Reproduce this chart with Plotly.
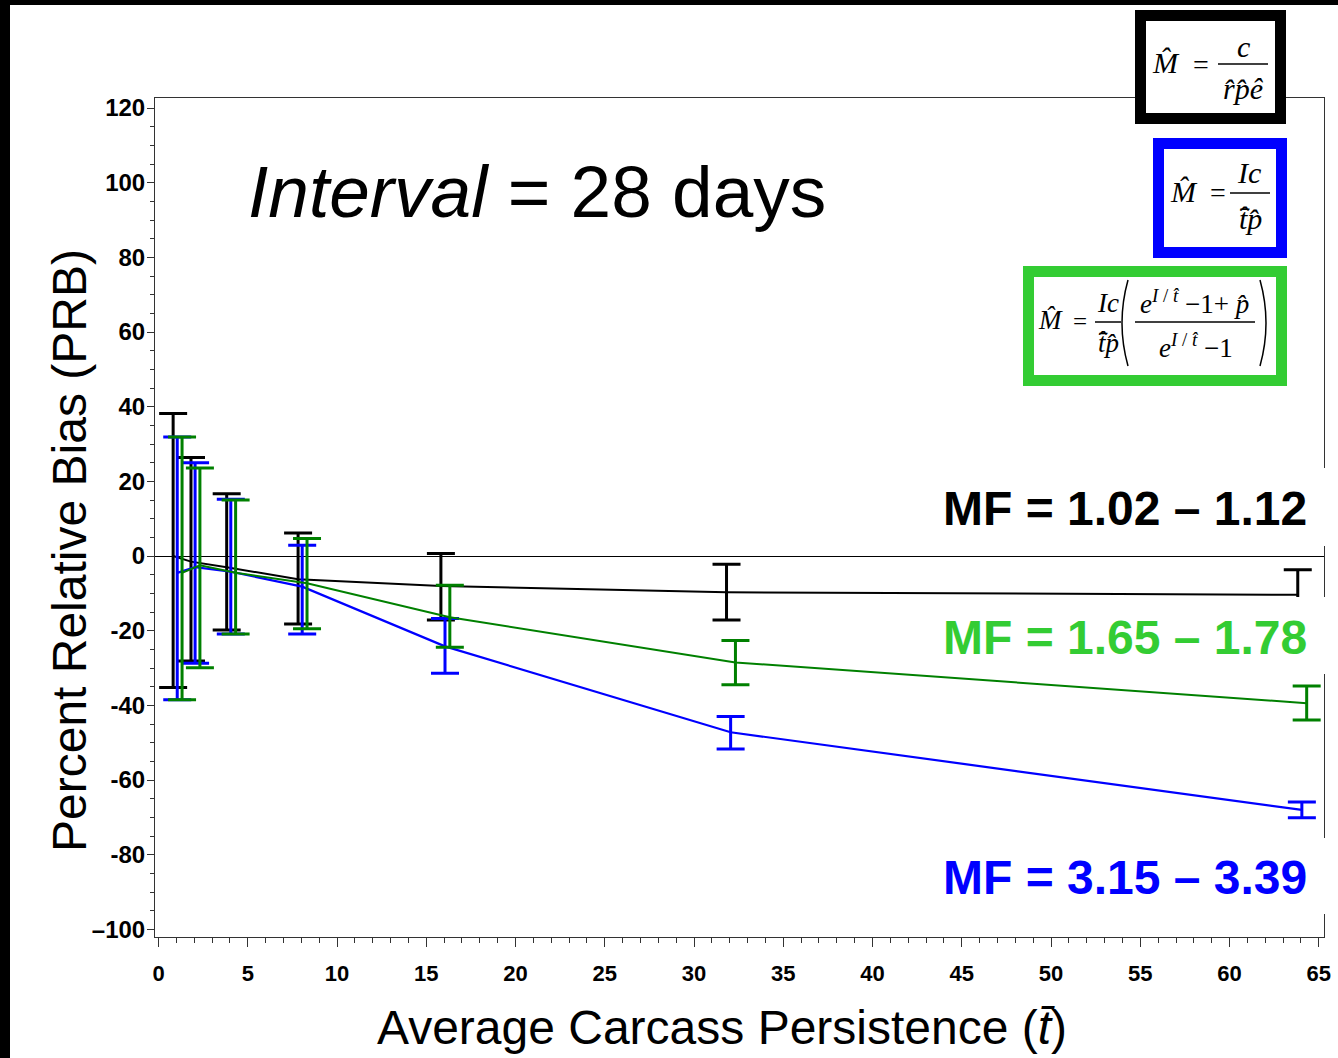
import plotly.graph_objects as go

# ---------------- data ----------------
t_values = [1, 2, 4, 8, 16, 32, 64]

black_mean = [0.0, -1.5, -3.0, -6.2, -8.0, -9.7, -10.4]
black_upper = [38.2, 26.4, 16.7, 6.2, 0.7, -2.2, -3.7]
black_lower = [-35.2, -28.1, -19.8, -18.2, -17.1, -17.1, -17.1]

blue_mean = [-4.5, -3.0, -4.2, -8.2, -24.2, -47.2, -68.0]
blue_upper = [31.9, 25.0, 15.2, 2.9, -16.7, -43.0, -65.9]
blue_lower = [-38.5, -28.7, -20.9, -20.9, -31.4, -51.7, -70.1]

green_mean = [-4.5, -2.5, -4.5, -7.3, -16.4, -28.5, -39.4]
green_upper = [31.9, 23.6, 15.0, 4.7, -7.8, -22.6, -34.8]
green_lower = [-38.5, -29.9, -20.9, -19.5, -24.4, -34.5, -43.9]

y_tickvals = [-100, -80, -60, -40, -20, 0, 20, 40, 60, 80, 100, 120]
y_ticktext = ["\u2013100", "-80", "-60", "-40", "-20", "0", "20", "40", "60", "80", "100", "120"]
x_tickvals = list(range(0, 66, 5))

mf_black = "MF = 1.02 \u2013 1.12"
mf_green = "MF = 1.65 \u2013 1.78"
mf_blue = "MF = 3.15 \u2013 3.39"

# ---------------- layout geometry ----------------
W, H = 1338, 1058
L, R, T, B = 155, 14, 98, 121
PW = W - L - R
PH = H - T - B


def px(x):
    return (x - L) / PW


def py(y):
    return (H - B - y) / PH


BLACK = "#000000"
BLUE = "#0000FF"
GREEN = "#008000"
LGREEN = "#33CC33"
SANS = "Liberation Sans, Arial, sans-serif"
SERIF = "Liberation Serif, Times New Roman, serif"


def series(x_off, mean, upper, lower, color, lw):
    return go.Scatter(
        x=[t + x_off for t in t_values], y=mean, mode="lines",
        line=dict(color=color, width=lw),
        error_y=dict(type="data", symmetric=False,
                     array=[u - m for u, m in zip(upper, mean)],
                     arrayminus=[m - lo for m, lo in zip(mean, lower)],
                     color=color, thickness=3, width=14),
        showlegend=False, hoverinfo="skip")


fig = go.Figure()
fig.add_trace(series(-0.18, black_mean, black_upper, black_lower, BLACK, 2))
fig.add_trace(series(0.05, blue_mean, blue_upper, blue_lower, BLUE, 2.2))
fig.add_trace(series(0.32, green_mean, green_upper, green_lower, GREEN, 2))

shapes = []


def rect(x0, y0, x1, y1, fill, line_color=None, lw=0):
    shapes.append(dict(type="rect", xref="paper", yref="paper",
                       x0=px(x0), x1=px(x1), y0=py(y1), y1=py(y0),
                       fillcolor=fill, layer="above",
                       line=dict(color=line_color or fill, width=lw)))


def hline(x0, x1, y, lw=1.5):
    shapes.append(dict(type="line", xref="paper", yref="paper",
                       x0=px(x0), x1=px(x1), y0=py(y), y1=py(y),
                       layer="above", line=dict(color=BLACK, width=lw)))


def paren(xa, xb, y0, y1):
    ym = (y0 + y1) / 2
    path = "M {a},{t} Q {b},{m} {a},{bt}".format(
        a=px(xa), b=px(xb), t=py(y0), m=py(ym), bt=py(y1))
    shapes.append(dict(type="path", xref="paper", yref="paper", path=path,
                       layer="above", line=dict(color=BLACK, width=1.5)))


# frame decorations (black strips of the slide)
rect(0, 0, 10, H, BLACK)
rect(0, 0, W, 5, BLACK)

# white boxes behind MF labels
rect(922, 468, W, 546, "white")
rect(922, 597, W, 674, "white")
rect(922, 838, W, 914, "white")

# formula boxes
rect(1140.5, 15.5, 1280.5, 118.5, "white", BLACK, 11)
rect(1158.5, 143.5, 1281.5, 252.5, "white", BLUE, 11)
rect(1028.5, 271.5, 1281.5, 380.5, "white", LGREEN, 11)

# fraction lines
hline(1218, 1268, 64)
hline(1230, 1270, 193)
hline(1095, 1121, 322)
hline(1135, 1255, 322)
paren(1128, 1116, 280, 366)
paren(1260, 1272, 280, 366)

annotations = []


def text(x, y, s, size, color=BLACK, family=SANS, xanchor="center", angle=0, weight="normal"):
    annotations.append(dict(xref="paper", yref="paper", x=px(x), y=py(y),
                            text=s, showarrow=False, xanchor=xanchor, yanchor="middle",
                            textangle=angle,
                            font=dict(size=size, color=color, family=family, weight=weight)))


MH = "<i>M\u0302</i>"
TH = "<i>t\u0302\u0304</i>"
PHAT = "<i>p\u0302</i>"

# black formula
text(1166, 63, MH, 30, family=SERIF)
text(1201, 64, "=", 28, family=SERIF)
text(1243, 46, "<i>c</i>", 30, family=SERIF)
text(1243, 88, "<i>r\u0302p\u0302\u00ea</i>", 30, family=SERIF)
# blue formula
text(1184, 191, MH, 30, family=SERIF)
text(1218, 192, "=", 28, family=SERIF)
text(1249, 172, "<i>Ic</i>", 30, family=SERIF)
text(1250, 218, TH + PHAT, 30, family=SERIF)
# green formula
text(1050, 320, MH, 27, family=SERIF)
text(1080, 321, "=", 25, family=SERIF)
text(1108, 303, "<i>Ic</i>", 27, family=SERIF)
text(1108, 343, TH + PHAT, 27, family=SERIF)
text(1194, 302, "<i>e</i><sup><i>I</i> / <i>t\u0302</i></sup> \u22121+ " + PHAT, 27, family=SERIF)
text(1196, 346, "<i>e</i><sup><i>I</i> / <i>t\u0302</i></sup> \u22121", 27, family=SERIF)

# big label
text(537, 191, "<i>Interval</i> = 28 days", 73)

# MF labels
text(1309, 509, "<b>" + mf_black + "</b>", 48, BLACK, xanchor="right")
text(1309, 637, "<b>" + mf_green + "</b>", 48, LGREEN, xanchor="right")
text(1309, 877, "<b>" + mf_blue + "</b>", 48, BLUE, xanchor="right")

# axis titles
text(69, 551, "Percent Relative Bias (PRB)", 48, angle=-90)
text(722, 1027, "Average Carcass Persistence (<i>t\u0304</i>)", 48)

fig.update_layout(
    width=W, height=H,
    margin=dict(l=L, r=R, t=T, b=B, pad=0, autoexpand=False),
    paper_bgcolor="white", plot_bgcolor="white",
    showlegend=False,
    shapes=shapes, annotations=annotations,
    font=dict(family=SANS, color=BLACK),
)

fig.update_xaxes(
    range=[-0.196, 65.29], tickvals=x_tickvals, ticks="outside", ticklen=9,
    tickwidth=1, tickcolor="#333", showline=True, linecolor="#333", linewidth=1,
    mirror=True, showgrid=False, zeroline=False, automargin=False,
    tickfont=dict(size=22, family=SANS, weight="bold", color=BLACK),
    ticklabelstandoff=8,
    minor=dict(dtick=1, ticks="outside", ticklen=5, tickcolor="#333", showgrid=False),
)
fig.update_yaxes(
    range=[-102.05, 122.7], tickvals=y_tickvals, ticktext=y_ticktext,
    ticks="outside", ticklen=7, tickwidth=1, tickcolor="#333",
    showline=True, linecolor="#333", linewidth=1, mirror=True, showgrid=False,
    zeroline=True, zerolinecolor=BLACK, zerolinewidth=1, automargin=False,
    tickfont=dict(size=24, family=SANS, weight="bold", color=BLACK),
    ticklabelstandoff=-3,
    minor=dict(dtick=5, ticks="outside", ticklen=4, tickcolor="#333", showgrid=False),
)

fig.write_html(
    "out.html",
    config={"displayModeBar": False},
    post_script="document.body.style.margin='0';document.body.style.padding='0';"
                "document.body.style.overflow='hidden';",
)
